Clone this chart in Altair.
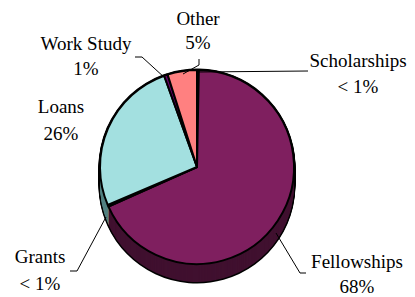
import altair as alt
import pandas as pd

# ---- data ----
categories = ["Scholarships", "Fellowships", "Grants", "Loans", "Work Study", "Other"]
values = [0.3, 68.0, 0.3, 25.9, 0.6, 4.9]
pct_labels = ["< 1%", "68%", "< 1%", "26%", "1%", "5%"]
top_colors = ["#9999FF", "#7F1F5F", "#FFFFCC", "#A3E0E0", "#660066", "#FF8080"]
side_colors = ["#4C4C80", "#40102F", "#808066", "#528080", "#330033", "#804040"]

# ---- layout (pixels, chart coordinates) ----
W, H = 399, 289
CX, CY, R, DEPTH = 189, 159, 97, 18
FONT = "Liberation Serif"
FS = 19

# label positions: (center x, baseline of name, baseline of percent)
label_pos = {
    "Scholarships": (350, 59, 85),
    "Fellowships": (349, 260, 285),
    "Grants": (32, 255, 282),
    "Loans": (53, 105, 132),
    "Work Study": (78, 42, 67),
    "Other": (190, 17, 41),
}
# leader line polylines per label
leaders = {
    "Scholarships": [(300, 63), (190, 64)],
    "Fellowships": [(268, 225), (292, 265), (298, 265)],
    "Grants": [(98, 209), (69, 263), (62, 263)],
    "Work Study": [(127, 49), (134, 49), (157, 70)],
    "Other": [(191, 51), (191, 57), (175, 66)],
}

df = pd.DataFrame({
    "cat": categories,
    "val": values,
    "idx": list(range(len(categories))),
    "top": top_colors,
    "side": side_colors,
})

base = alt.Chart(df)
theta = alt.Theta("val:Q", stack=True)
order = alt.Order("idx:Q")

layers = []
# black silhouette of the 3D body
for dy in range(DEPTH, -1, -1):
    layers.append(
        base.mark_arc(outerRadius=R + 1.5, color="black").encode(
            theta=theta, order=order, x=alt.value(CX), y=alt.value(CY + dy)
        )
    )
# coloured side
for dy in range(DEPTH, 0, -1):
    layers.append(
        base.mark_arc(outerRadius=R).encode(
            theta=theta, order=order,
            color=alt.Color("side:N", scale=None),
            x=alt.value(CX), y=alt.value(CY + dy),
        )
    )
# top face
layers.append(
    base.mark_arc(outerRadius=R, stroke="black", strokeWidth=2, strokeJoin="round").encode(
        theta=theta, order=order,
        color=alt.Color("top:N", scale=None),
        x=alt.value(CX), y=alt.value(CY),
    )
)

# leader lines
segs = []
for name, pts in leaders.items():
    for (x1, y1), (x2, y2) in zip(pts[:-1], pts[1:]):
        segs.append({"x": x1, "y": y1, "x2": x2, "y2": y2})
seg_df = pd.DataFrame(segs)
layers.append(
    alt.Chart(seg_df).mark_rule(color="black", strokeWidth=1).encode(
        x=alt.X("x:Q", scale=None), y=alt.Y("y:Q", scale=None),
        x2="x2:Q", y2="y2:Q",
    )
)

# labels
rows = []
for name, pct in zip(categories, pct_labels):
    x, yn, yp = label_pos[name]
    rows.append({"t": name, "x": x, "y": yn})
    rows.append({"t": pct, "x": x, "y": yp})
lab_df = pd.DataFrame(rows)
layers.append(
    alt.Chart(lab_df).mark_text(
        font=FONT, fontSize=FS, align="center", baseline="alphabetic", color="black"
    ).encode(
        x=alt.X("x:Q", scale=None), y=alt.Y("y:Q", scale=None), text="t:N"
    )
)

chart = alt.layer(*layers).properties(
    width=W, height=H, padding=0, autosize=alt.AutoSizeParams(type="none")
).configure_view(stroke=None)

chart.save("out.html", embed_options={"renderer": "svg", "actions": False})
